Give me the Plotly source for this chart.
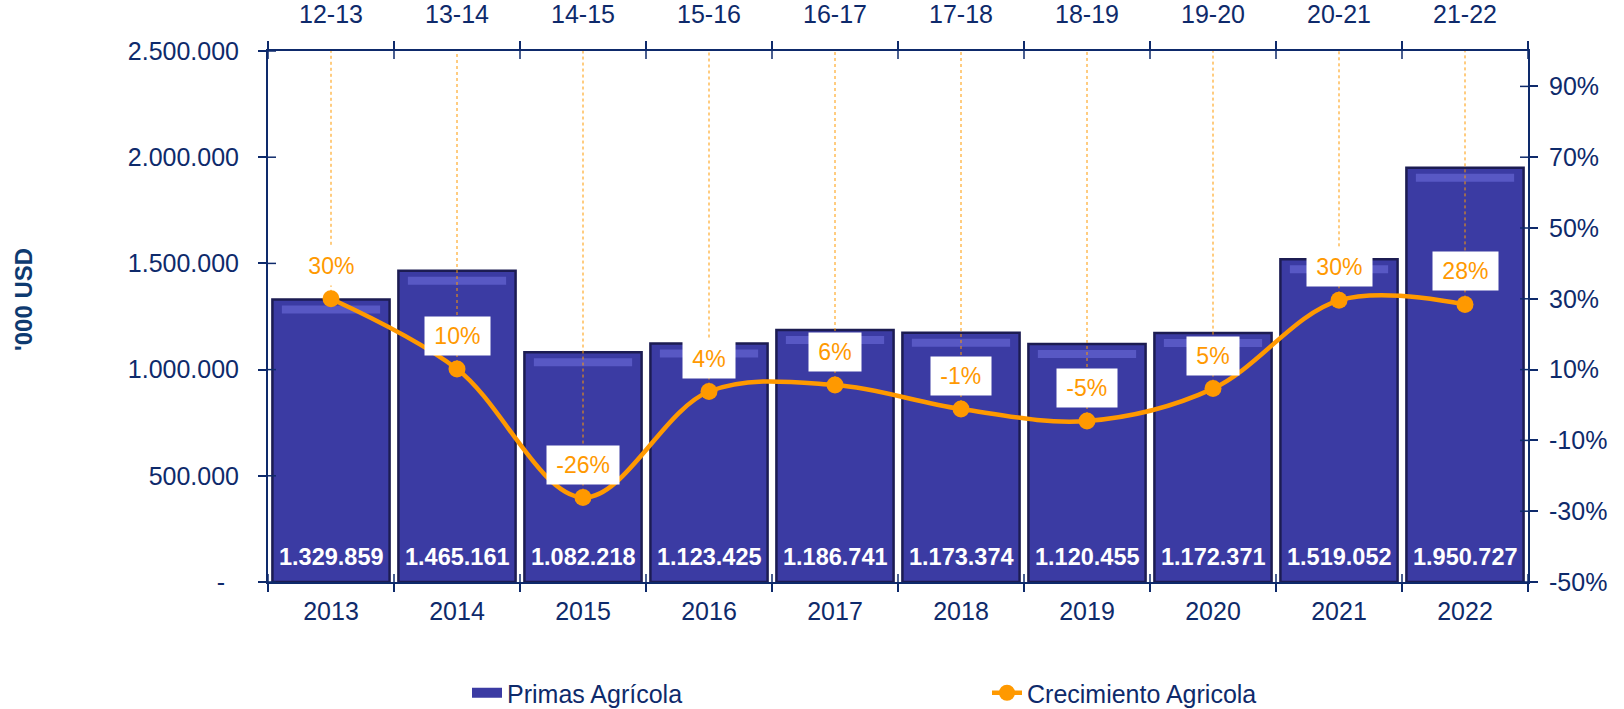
import plotly.graph_objects as go

years = ["2013", "2014", "2015", "2016", "2017", "2018", "2019", "2020", "2021", "2022"]
seasons = ["12-13", "13-14", "14-15", "15-16", "16-17", "17-18", "18-19", "19-20", "20-21", "21-22"]
primas = [1329859, 1465161, 1082218, 1123425, 1186741, 1173374, 1120455, 1172371, 1519052, 1950727]
crecimiento = [30.0, 10.17, -26.14, 3.81, 5.64, -1.13, -4.51, 4.63, 29.57, 28.42]
left_ticks = [0, 500000, 1000000, 1500000, 2000000, 2500000]
right_ticks = [-50, -30, -10, 10, 30, 50, 70, 90]
left_range = [0, 2500000]
right_range = [-50, 100]

NAVY = "#0E2A6B"
ORANGE = "#FF9900"
BAR = "#3B3BA3"
FONT = "Liberation Sans, Arial, sans-serif"
PLOT_H = 531  # plot area height in px
UPP = (left_range[1] - left_range[0]) / PLOT_H  # data units per pixel on the left axis


def fmt(v):
    return "-\u00a0\u00a0" if v == 0 else f"{v:,}".replace(",", ".")


fig = go.Figure()
fig.add_trace(go.Bar(
    x=years, y=primas, name="Primas Agrícola", xaxis="x", yaxis="y", width=0.93,
    marker=dict(color=BAR, line=dict(color="#1C1C52", width=2.5)),
    hoverinfo="skip", showlegend=False,
))
# bevel highlight just under the top edge of each bar
fig.add_trace(go.Bar(
    x=years, y=[8 * UPP] * len(primas), base=[v - 14 * UPP for v in primas],
    xaxis="x", yaxis="y", width=0.78,
    marker=dict(color="#5858C4", line=dict(width=0)),
    hoverinfo="skip", showlegend=False,
))
# legend entry for the bars (wide rectangle swatch)
fig.add_trace(go.Scatter(
    x=[None], y=[None], name="Primas Agrícola", xaxis="x", yaxis="y",
    mode="lines", line=dict(color=BAR, width=15), hoverinfo="skip",
))
fig.add_trace(go.Scatter(
    x=years, y=crecimiento, name="Crecimiento Agricola", xaxis="x2", yaxis="y2",
    mode="lines+markers", line=dict(color=ORANGE, width=4.5, shape="spline", smoothing=1),
    marker=dict(color=ORANGE, size=17), hoverinfo="skip",
))

pad = "<span style='font-size:12px'>\u00a0</span>"
shapes = []
annotations = []
for i, g in enumerate(crecimiento):
    shapes.append(dict(type="line", xref="x", yref="y2", x0=i, x1=i, y0=g, y1=right_range[1],
                       line=dict(color=ORANGE, width=1, dash="dot"), layer="above"))
    annotations.append(dict(x=i, y=g, xref="x", yref="y2", text=pad + f"{g:.0f}%" + pad,
                            showarrow=False, yshift=33, bgcolor="white", borderpad=6,
                            font=dict(color=ORANGE, size=23, family=FONT)))
for i, v in enumerate(primas):
    annotations.append(dict(x=i, y=0, xref="x", yref="y", text=f"<b>{fmt(v)}</b>",
                            showarrow=False, yshift=25, yanchor="middle",
                            font=dict(color="white", size=23.5, family=FONT)))
annotations.append(dict(x=(23 - 268) / 1260, y=(582 - 300) / PLOT_H, xref="paper", yref="paper",
                        xanchor="center", yanchor="middle",
                        text="<b>'000 USD</b>", textangle=-90, showarrow=False,
                        font=dict(color="#0E3A70", size=24, family=FONT)))

# inner halves of the crossing tick marks
TL = 8
for k in range(len(years) + 1):
    edge = k - 0.5
    shapes.append(dict(type="line", xref="x", yref="paper", x0=edge, x1=edge, y0=0, y1=TL / PLOT_H,
                       line=dict(color=NAVY, width=1.5), layer="above"))
    shapes.append(dict(type="line", xref="x", yref="paper", x0=edge, x1=edge, y0=1, y1=1 - TL / PLOT_H,
                       line=dict(color=NAVY, width=1.5), layer="above"))
for t in left_ticks:
    shapes.append(dict(type="line", xref="paper", yref="y", x0=0, x1=TL / 1260, y0=t, y1=t,
                       line=dict(color=NAVY, width=1.5), layer="above"))
for t in right_ticks:
    shapes.append(dict(type="line", xref="paper", yref="y2", x0=1, x1=1 - TL / 1260, y0=t, y1=t,
                       line=dict(color=NAVY, width=1.5), layer="above"))

axis_common = dict(showgrid=False, zeroline=False, linecolor=NAVY, linewidth=2,
                   tickcolor=NAVY, tickwidth=1.5, ticklen=TL, automargin=False,
                   tickfont=dict(color=NAVY, size=25, family=FONT))

fig.update_layout(
    width=1624, height=709,
    margin=dict(l=268, r=96, t=51, b=127, autoexpand=False),
    paper_bgcolor="white", plot_bgcolor="white",
    barmode="overlay",
    font=dict(family=FONT, color=NAVY),
    xaxis=dict(type="category", range=[-0.5, len(years) - 0.5], tickson="boundaries",
               ticks="outside", showline=True, anchor="y", ticklabelstandoff=6, **axis_common),
    xaxis2=dict(type="category", range=[-0.5, len(years) - 0.5], tickson="boundaries",
                ticks="outside", showline=True, overlaying="x", side="top", anchor="y2",
                tickvals=years, ticktext=seasons, ticklabelstandoff=16, **axis_common),
    yaxis=dict(range=left_range, tickvals=left_ticks, ticktext=[fmt(v) for v in left_ticks],
               ticks="outside", showline=True, anchor="x", ticklabelstandoff=14, **axis_common),
    yaxis2=dict(range=right_range, tickvals=right_ticks, ticktext=[f"{v}%" for v in right_ticks],
                ticks="outside", showline=True, overlaying="y", side="right", anchor="x2",
                ticklabelstandoff=6, **axis_common),
    shapes=shapes,
    annotations=annotations,
    showlegend=True,
    legend=dict(orientation="h", xref="container", yref="container", x=467 / 1624, y=1 - 693 / 709,
                yanchor="middle", xanchor="left", entrywidth=475, entrywidthmode="pixels",
                font=dict(color=NAVY, size=25, family=FONT), bgcolor="rgba(0,0,0,0)"),
)

fig.write_html("out.html", config={"displayModeBar": False},
               post_script="document.body.style.margin='0';")
